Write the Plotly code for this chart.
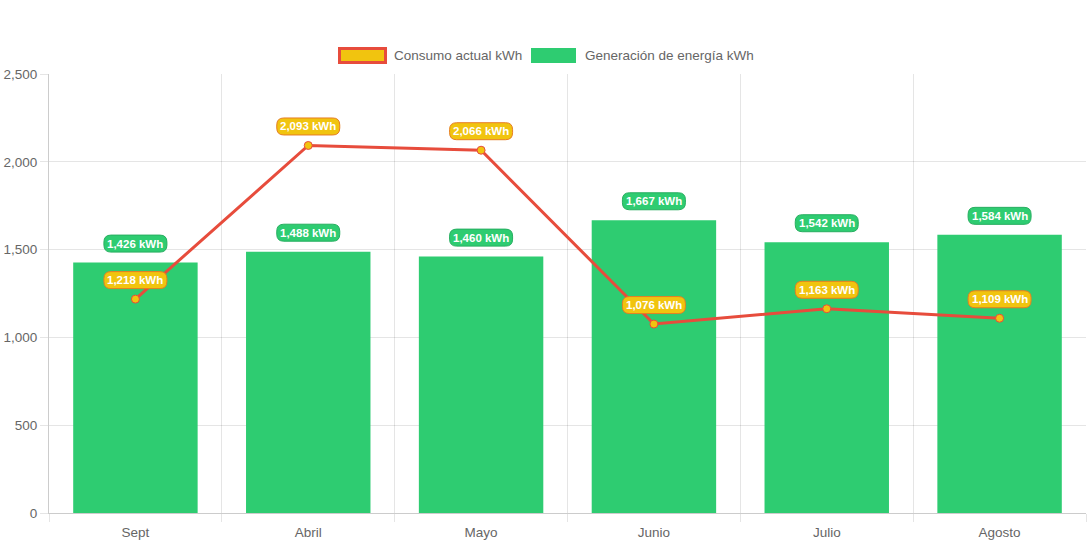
import plotly.graph_objects as go

categories = ["Sept", "Abril", "Mayo", "Junio", "Julio", "Agosto"]
generacion = [1426, 1488, 1460, 1667, 1542, 1584]
consumo = [1218, 2093, 2066, 1076, 1163, 1109]
y_ticks = [0, 500, 1000, 1500, 2000, 2500]
series_names = ["Consumo actual kWh", "Generación de energía kWh"]

GREEN = "#2ecc71"
GREEN_D = "#27ae60"
YELLOW = "#f1c40f"
RED = "#e74c3c"
ORANGE = "#e67e22"
FONT = "Liberation Sans, Arial, sans-serif"

W, H = 1092, 545
ML, MT = 49, 74
MR = W - 1086
MB = H - 513
PW, PH = W - ML - MR, H - MT - MB

x = list(range(len(categories)))

fig = go.Figure()
fig.add_trace(go.Bar(
    x=x, y=generacion, name=series_names[1],
    marker=dict(color=GREEN, line=dict(width=0)), width=0.72,
    showlegend=False,
))
fig.add_trace(go.Scatter(
    x=x, y=consumo, name=series_names[0], mode="lines+markers",
    line=dict(color=RED, width=3),
    marker=dict(color=YELLOW, size=8, line=dict(color=RED, width=1)),
    showlegend=False,
))


def pill(w, h, r, cy):
    x0, x1 = -w / 2, w / 2
    y0, y1 = cy - h / 2, cy + h / 2
    return (f"M{x0 + r},{y0} L{x1 - r},{y0} Q{x1},{y0} {x1},{y0 + r} "
            f"L{x1},{y1 - r} Q{x1},{y1} {x1 - r},{y1} L{x0 + r},{y1} "
            f"Q{x0},{y1} {x0},{y1 - r} L{x0},{y0 + r} Q{x0},{y0} {x0 + r},{y0} Z")


shapes = []
ann = []
LABEL_OFF = 19
for vals, fill, border in ((generacion, GREEN, GREEN_D), (consumo, YELLOW, ORANGE)):
    for i, v in enumerate(vals):
        shapes.append(dict(type="path", xref="x", yref="y",
                           xsizemode="pixel", ysizemode="pixel",
                           xanchor=i, yanchor=v,
                           path=pill(63, 17, 7, LABEL_OFF),
                           fillcolor=fill, line=dict(color=border, width=1),
                           layer="above"))
        ann.append(dict(x=i, y=v, xref="x", yref="y", text=f"<b>{v:,} kWh</b>",
                        showarrow=False, yshift=LABEL_OFF, yanchor="middle",
                        font=dict(color="white", size=11.5, family=FONT)))


# custom legend (Chart.js style boxes), given in pixels
def px_x(px):
    return (px - ML) / PW


def px_y(py):
    return (H - MB - py) / PH


shapes.append(dict(type="rect", xref="paper", yref="paper",
                   x0=px_x(339.5), x1=px_x(385.5), y0=px_y(62.5), y1=px_y(48.5),
                   fillcolor=YELLOW, line=dict(color=RED, width=3)))
shapes.append(dict(type="rect", xref="paper", yref="paper",
                   x0=px_x(531), x1=px_x(576), y0=px_y(63), y1=px_y(48),
                   fillcolor=GREEN, line=dict(width=0)))
for name, lx in zip(series_names, (392, 583)):
    ann.append(dict(x=px_x(lx), y=px_y(55.5), xref="paper", yref="paper",
                    xanchor="left", yanchor="middle", showarrow=False,
                    text=name, font=dict(size=13.5, color="#666", family=FONT)))

fig.update_layout(
    width=W, height=H,
    margin=dict(l=ML, r=MR, t=MT, b=MB),
    paper_bgcolor="white", plot_bgcolor="white",
    font=dict(family=FONT, size=13.5, color="#666"),
    showlegend=False,
    annotations=ann,
    shapes=shapes,
    xaxis=dict(
        range=[-0.5, len(categories) - 0.5],
        tickmode="array", tickvals=x, ticktext=categories,
        showgrid=False, ticks="", zeroline=False,
        showline=True, linecolor="rgba(0,0,0,0.2)", linewidth=1,
        tickfont=dict(size=13.5, color="#666"), ticklabelstandoff=7,
        minor=dict(tick0=-0.5, dtick=1, showgrid=True, gridcolor="rgba(0,0,0,0.1)",
                   ticks="outside", ticklen=8, tickcolor="rgba(0,0,0,0.1)"),
        automargin=False, fixedrange=True,
    ),
    yaxis=dict(
        range=[0, 2500], tickmode="array", tickvals=y_ticks,
        tickformat=",", showgrid=True, gridcolor="rgba(0,0,0,0.1)",
        ticks="outside", ticklen=8, tickcolor="rgba(0,0,0,0.1)",
        showline=True, linecolor="rgba(0,0,0,0.2)", linewidth=1,
        zeroline=False, tickfont=dict(size=13.5, color="#666"),
        automargin=False, fixedrange=True,
    ),
)

fig.write_html("out.html", config={"displayModeBar": False},
               post_script="document.body.style.margin='0';")
